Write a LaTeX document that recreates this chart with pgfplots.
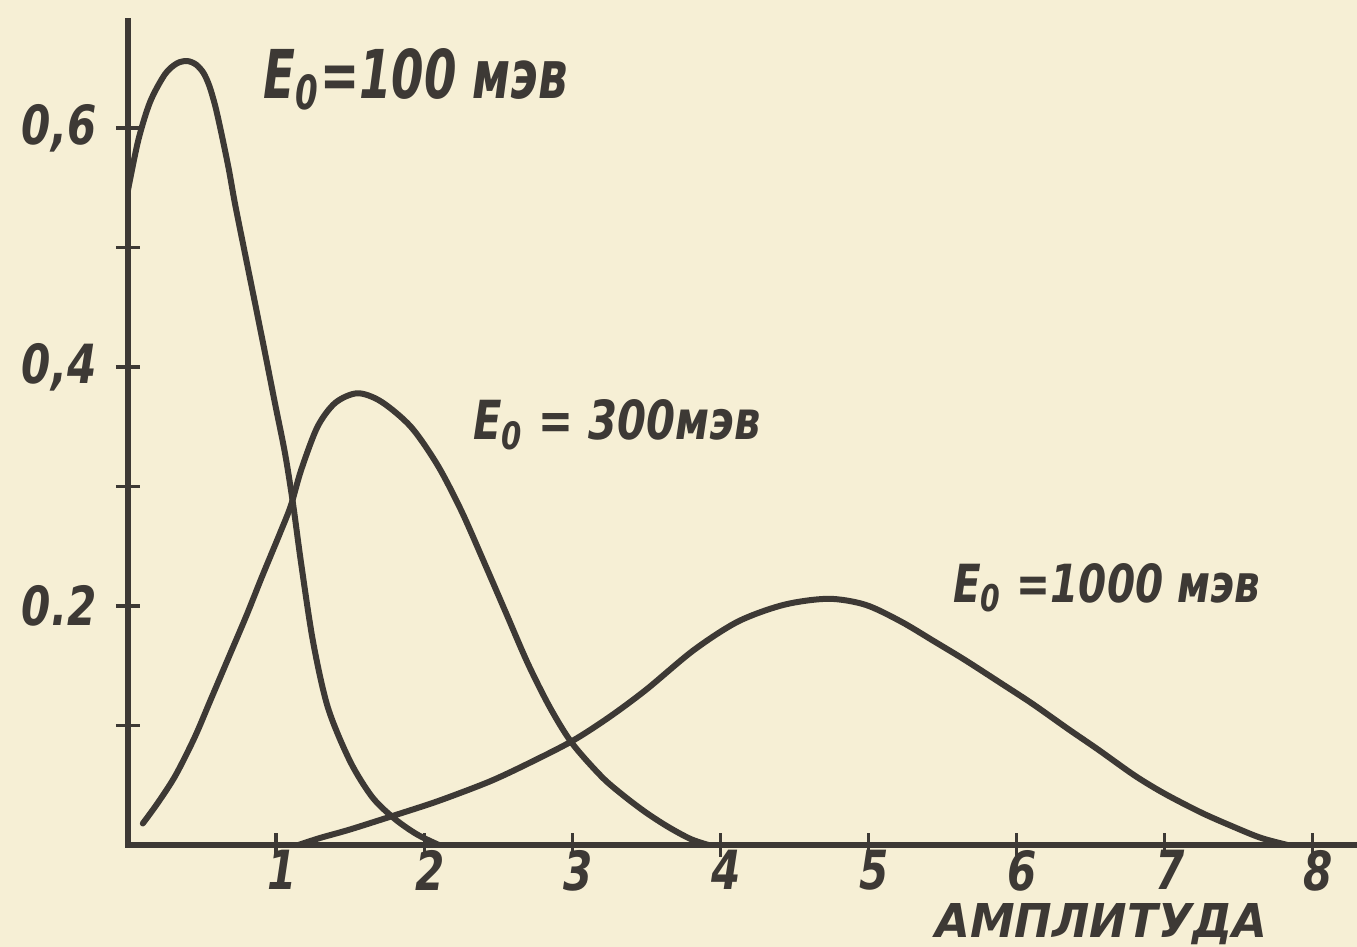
\documentclass[border=0pt]{standalone}
\usepackage{pgfplots}
\pgfplotsset{compat=1.18}
\usepackage{graphicx}
\usepackage{fontspec}
\setmainfont{DejaVu Sans}
\definecolor{ink}{HTML}{3D3935}
\definecolor{paper}{HTML}{F6EFD5}
\newcommand\hw[1]{\scalebox{0.78}[1]{\bfseries\itshape #1}}
\begin{document}
\begin{tikzpicture}
\fill[paper] (-64pt,-51pt) rectangle (614.5pt,422.5pt);
\useasboundingbox (-64pt,-51pt) rectangle (614.5pt,422.5pt);
\begin{axis}[
  at={(0pt,0pt)}, anchor=south west,
  scale only axis, width=614.5pt, height=412.3pt,
  xmin=0, xmax=8.30, ymin=0, ymax=0.690,
  axis lines=left,
  axis line style={-, line width=2.6pt, color=ink, line cap=rect},
  xtick={1,2,3,4,5,6,7,8},
  xticklabels={\hw{1},\hw{2},\hw{3},\hw{4},\hw{5},\hw{6},\hw{7},\hw{8}},
  ytick={0.1,0.2,0.3,0.4,0.5,0.6},
  yticklabels={{},{\hw{0.2}},{},{\raisebox{-4.5pt}{\hw{0,4}}},{},{\raisebox{2.5pt}{\hw{0,6}}}},
  tick align=center, major tick length=12pt,
  tick style={line width=1.6pt, color=ink},
  ticklabel style={font=\fontsize{27}{30}\selectfont, text=ink},
  xticklabel style={anchor=north, inner sep=0pt, yshift=3.5pt, xshift=3pt},
  yticklabel style={anchor=east, inner sep=0pt, xshift=-9.5pt},
  clip=false,
]
% E0 = 100 MeV
\addplot[ink, line width=3pt, smooth, mark=none, line join=round, line cap=round] coordinates {
(0,0.548) (0.07,0.59) (0.15,0.622) (0.25,0.645) (0.33,0.654) (0.40,0.656)
(0.46,0.653) (0.51,0.646) (0.55,0.635) (0.59,0.618) (0.63,0.596) (0.68,0.566)
(0.722,0.537) (0.79,0.495) (0.857,0.454) (0.925,0.412) (0.992,0.37) (1.06,0.328)
(1.114,0.286) (1.17,0.235) (1.25,0.17) (1.35,0.115) (1.5,0.07) (1.65,0.04)
(1.8,0.022) (1.95,0.009) (2.1,0)
};
% E0 = 300 MeV
\addplot[ink, line width=3pt, smooth, mark=none, line join=round, line cap=round] coordinates {
(0.10,0.018) (0.2,0.035) (0.32,0.058) (0.45,0.09) (0.56,0.122) (0.68,0.157)
(0.8,0.192) (0.9,0.223) (0.98,0.247) (1.03,0.262) (1.10,0.284) (1.17,0.314)
(1.28,0.35) (1.40,0.37) (1.55,0.378) (1.71,0.371) (1.91,0.35) (2.09,0.318)
(2.25,0.28) (2.4,0.238) (2.55,0.195) (2.7,0.152) (2.85,0.115) (3.0,0.085)
(3.2,0.057) (3.35,0.041) (3.5,0.027) (3.65,0.015) (3.8,0.005) (3.92,0)
};
% E0 = 1000 MeV
\addplot[ink, line width=3pt, smooth, mark=none, line join=round, line cap=round] coordinates {
(1.15,0) (1.3,0.006) (1.5,0.013) (1.83,0.026) (2.1,0.037) (2.44,0.053)
(2.7,0.068) (3.0,0.087) (3.25,0.107) (3.5,0.13) (3.82,0.163) (4.12,0.187)
(4.43,0.201) (4.73,0.206) (4.98,0.201) (5.22,0.187) (5.45,0.17) (5.65,0.155)
(5.9,0.135) (6.11,0.118) (6.35,0.097) (6.55,0.08) (6.8,0.058) (7.0,0.043)
(7.25,0.027) (7.47,0.015) (7.65,0.006) (7.83,0)
};
\node[anchor=base west, inner sep=0pt, text=ink] at (axis cs:0.91,0.625)
  {\resizebox{152.5pt}{25pt}{\bfseries\itshape E\textsubscript{0}=100 мэв}};
\node[anchor=base west, inner sep=0pt, text=ink] at (axis cs:2.33,0.339)
  {\resizebox{143.5pt}{20pt}{\bfseries\itshape E\textsubscript{0} = 300мэв}};
\node[anchor=base west, inner sep=0pt, text=ink] at (axis cs:5.57,0.203)
  {\resizebox{153.5pt}{19.5pt}{\bfseries\itshape E\textsubscript{0} =1000 мэв}};
\node[anchor=base west, inner sep=0pt, text=ink] at (axis cs:5.45,-0.077)
  {\resizebox{166pt}{17pt}{\bfseries\itshape АМПЛИТУДА}};
\end{axis}
\end{tikzpicture}
\end{document}
